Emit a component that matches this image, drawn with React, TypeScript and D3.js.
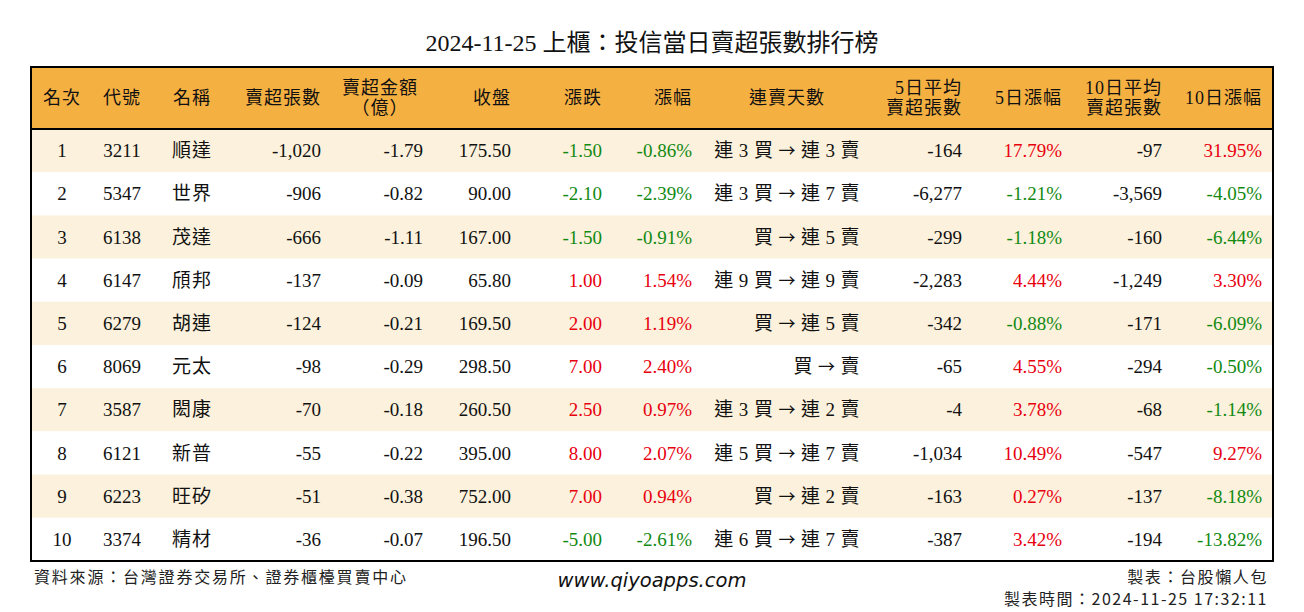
import React from "react";
import * as d3 from "d3";

const title = "2024-11-25 上櫃：投信當日賣超張數排行榜";
const ranks = ["1", "2", "3", "4", "5", "6", "7", "8", "9", "10"];
const codes = ["3211", "5347", "6138", "6147", "6279", "8069", "3587", "6121", "6223", "3374"];
const names = ["順達", "世界", "茂達", "頎邦", "胡連", "元太", "閎康", "新普", "旺矽", "精材"];
const sellShares = ["-1,020", "-906", "-666", "-137", "-124", "-98", "-70", "-55", "-51", "-36"];
const sellAmount = ["-1.79", "-0.82", "-1.11", "-0.09", "-0.21", "-0.29", "-0.18", "-0.22", "-0.38", "-0.07"];
const closes = ["175.50", "90.00", "167.00", "65.80", "169.50", "298.50", "260.50", "395.00", "752.00", "196.50"];
const changes = ["-1.50", "-2.10", "-1.50", "1.00", "2.00", "7.00", "2.50", "8.00", "7.00", "-5.00"];
const changePct = ["-0.86%", "-2.39%", "-0.91%", "1.54%", "1.19%", "2.40%", "0.97%", "2.07%", "0.94%", "-2.61%"];
const streaks = [
  "連 3 買 → 連 3 賣",
  "連 3 買 → 連 7 賣",
  "買 → 連 5 賣",
  "連 9 買 → 連 9 賣",
  "買 → 連 5 賣",
  "買 → 賣",
  "連 3 買 → 連 2 賣",
  "連 5 買 → 連 7 賣",
  "買 → 連 2 賣",
  "連 6 買 → 連 7 賣",
];
const avg5 = ["-164", "-6,277", "-299", "-2,283", "-342", "-65", "-4", "-1,034", "-163", "-387"];
const pct5 = ["17.79%", "-1.21%", "-1.18%", "4.44%", "-0.88%", "4.55%", "3.78%", "10.49%", "0.27%", "3.42%"];
const avg10 = ["-97", "-3,569", "-160", "-1,249", "-171", "-294", "-68", "-547", "-137", "-194"];
const pct10 = ["31.95%", "-4.05%", "-6.44%", "3.30%", "-6.09%", "-0.50%", "-1.14%", "9.27%", "-8.18%", "-13.82%"];

const headers: string[][] = [
  ["名次"], ["代號"], ["名稱"], ["賣超張數"], ["賣超金額", "（億）"], ["收盤"], ["漲跌"], ["漲幅"],
  ["連賣天數"], ["5日平均", "賣超張數"], ["5日漲幅"], ["10日平均", "賣超張數"], ["10日漲幅"],
];
const columns: string[][] = [
  ranks, codes, names, sellShares, sellAmount, closes, changes, changePct, streaks, avg5, pct5, avg10, pct10,
];
const signed = [false, false, false, false, false, false, true, true, false, false, true, false, true];

const footLeft = "資料來源：台灣證券交易所、證券櫃檯買賣中心";
const footCenter = "www.qiyoapps.com";
const footRight1 = "製表：台股懶人包";
const footRight2 = "製表時間：2024-11-25 17:32:11";

// layout
type Anchor = "start" | "middle" | "end";
const colLayout: { hx: number; ha: Anchor; dx: number; da: Anchor }[] = [
  { hx: 62, ha: "middle", dx: 62, da: "middle" },
  { hx: 122, ha: "middle", dx: 122, da: "middle" },
  { hx: 192, ha: "middle", dx: 192, da: "middle" },
  { hx: 321, ha: "end", dx: 321, da: "end" },
  { hx: 380, ha: "middle", dx: 423, da: "end" },
  { hx: 511, ha: "end", dx: 511, da: "end" },
  { hx: 602, ha: "end", dx: 602, da: "end" },
  { hx: 692, ha: "end", dx: 692, da: "end" },
  { hx: 787, ha: "middle", dx: 860, da: "end" },
  { hx: 962, ha: "end", dx: 962, da: "end" },
  { hx: 1062, ha: "end", dx: 1062, da: "end" },
  { hx: 1162, ha: "end", dx: 1162, da: "end" },
  { hx: 1262, ha: "end", dx: 1262, da: "end" },
];

const W = 1304;
const H = 612;
const left = 31;
const right = 1273;
const top = 67;
const headerBottom = 129;
const bottom = 561;

const serif = "'Liberation Serif', 'Noto Sans CJK TC', serif";
const cjk = "'Noto Sans CJK TC', sans-serif";
const RED = "#e8000e";
const GREEN = "#128a12";
const ORANGE = "#f5b042";
const CREAM = "#fcf1dc";

function renderCell(v: string) {
  if (v.indexOf("→") < 0) return v;
  const parts = v.split("→");
  return (
    <>
      {parts[0]}
      <tspan fontFamily={cjk} fontSize={17}>→</tspan>
      {parts[1]}
    </>
  );
}

export default function App() {
  const y = d3.scaleBand<string>().domain(ranks).range([headerBottom, bottom]);
  const colorOf = (v: string, s: boolean) => {
    if (!s) return "#111";
    const n = parseFloat(v.replace(/[,%]/g, ""));
    return n > 0 ? RED : n < 0 ? GREEN : "#111";
  };
  const headerMid = (top + headerBottom) / 2;
  return (
    <svg width={W} height={H} style={{ position: "absolute", left: 0, top: 0, background: "#fff" }}>
      <rect x={0} y={0} width={W} height={H} fill="#fff" />
      <text x={W / 2} y={43} textAnchor="middle" dy="0.35em" fontFamily={serif} fontSize={24} fill="#111">
        {title}
      </text>
      <rect x={left} y={top} width={right - left} height={headerBottom - top} fill={ORANGE} />
      {ranks.map((r, i) => (
        <rect key={r} x={left} y={y(r)!} width={right - left} height={y.bandwidth()} fill={i % 2 === 0 ? CREAM : "#fff"} />
      ))}
      {headers.map((h, ci) => {
        const c = colLayout[ci];
        return h.map((line, li) => {
          const yy = h.length === 1 ? headerMid : headerMid + (li - 0.5) * 20;
          return (
            <text key={ci + "-" + li} x={c.hx} y={yy} dy="0.36em" textAnchor={c.ha} fontFamily={serif}
              fontSize={18} letterSpacing={1} fill="#111">
              {line}
            </text>
          );
        });
      })}
      {columns.map((col, ci) => {
        const c = colLayout[ci];
        return col.map((v, ri) => (
          <text key={ci + "_" + ri} x={c.dx} y={y(ranks[ri])! + y.bandwidth() / 2} dy="0.35em" textAnchor={c.da}
            fontFamily={serif} fontSize={19} letterSpacing={ci === 2 ? 1 : ci === 8 ? 0.4 : 0}
            fill={colorOf(v, signed[ci])}>
            {renderCell(v)}
          </text>
        ));
      })}
      <rect x={left} y={top} width={right - left} height={bottom - top} fill="none" stroke="#000" strokeWidth={2} />
      <line x1={left} x2={right} y1={headerBottom} y2={headerBottom} stroke="#000" strokeWidth={2} />
      <text x={34} y={577} dy="0.35em" fontFamily={cjk} fontSize={16} letterSpacing={1.8} fill="#222">
        {footLeft}
      </text>
      <text x={652} y={580} dy="0.35em" textAnchor="middle" fontFamily="'DejaVu Sans', sans-serif" fontStyle="italic"
        fontSize={19.5} fill="#111">
        {footCenter}
      </text>
      <text x={1268} y={577} dy="0.35em" textAnchor="end" fontFamily={cjk} fontSize={16} letterSpacing={1.6} fill="#222">
        {footRight1}
      </text>
      <text x={1268} y={599} dy="0.35em" textAnchor="end" fontFamily={cjk} fontSize={16} letterSpacing={1.5} fill="#222">
        {footRight2}
      </text>
    </svg>
  );
}
